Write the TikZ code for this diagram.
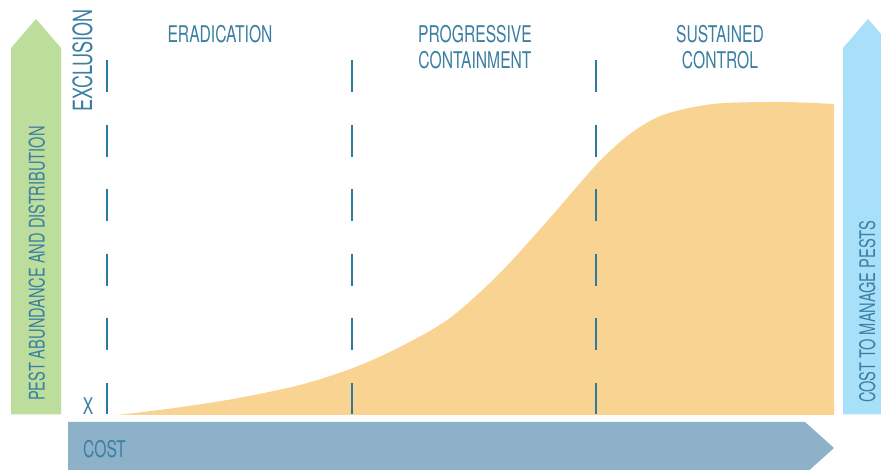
\documentclass[tikz,border=0pt]{standalone}
\usepackage{fontspec}
\newfontfamily\narrowfont[FakeStretch=0.68]{TeX Gyre Heros}
\definecolor{textblue}{HTML}{3A7FA2}
\definecolor{lineblue}{HTML}{2D7AA0}
\definecolor{pestgreen}{HTML}{BCDD9B}
\definecolor{costsky}{HTML}{A9E0F9}
\definecolor{coststeel}{HTML}{8DB1C9}
\definecolor{curveorange}{HTML}{F9D391}
\tikzstyle{phase} = [text=textblue, inner sep=0pt, align=center,
    font=\narrowfont\fontsize{23}{26}\selectfont]
\tikzstyle{axistext} = [phase, rotate=90, anchor=base,
    font=\narrowfont\fontsize{21.5}{26}\selectfont]
\tikzstyle{divider} = [draw=lineblue, line width=2pt,
    dash pattern=on 32pt off 32.6pt]

\begin{document}
\begin{tikzpicture}[x=1pt, y=1pt]
    % We start by fixing the frame
    \clip (0,0) rectangle (881,470);
    \fill[white] (0,0) rectangle (881,470);
    % the curve of pest abundance
    \fill[curveorange] (108,55) -- plot[smooth] coordinates {(117,55) (167,61)
        (233,71) (300,85) (353,102) (400,123) (450,152) (500,197) (550,252)
        (597,306) (630,336) (663,355) (713,366) (780,368) (834,366)}
        -- (834,55) -- cycle;
    % Then the three big arrows
    \fill[pestgreen] (11,55.5) -- (11,422) -- (36,451) -- (61,422) -- (61,55.5) -- cycle;
    \fill[costsky] (843,55.5) -- (843,422) -- (868,451) -- (893,422) -- (893,55.5) -- cycle;
    \fill[coststeel] (68,-4) -- (68,48) -- (805,48) -- (834,22) -- (805,-4) -- cycle;
    % the dashed borders of the phases
    \foreach \x in {107,352,596}
        \draw[divider] (\x,410) -- (\x,55.5);
    % Once the shapes are placed, the texts are easy.
    \node[axistext, font=\narrowfont\fontsize{26.5}{30}\selectfont] (exclusion) at (92,409.5) {EXCLUSION};
    \node[phase, anchor=base] (eradication) at (220,427) {ERADICATION};
    \node[phase, anchor=base] (containment) at (475,401) {PROGRESSIVE\\CONTAINMENT};
    \node[phase, anchor=base] (control) at (720,401) {SUSTAINED\\CONTROL};
    \node[phase, anchor=base] (x) at (88,55) {X};
    \node[phase, anchor=base west] (cost) at (83,12) {COST};
    \node[axistext] (pest) at (44.5,206.5) {PEST ABUNDANCE AND DISTRIBUTION};
    \node[axistext] (manage) at (875,158) {COST TO MANAGE PESTS};
\end{tikzpicture}
\end{document}
